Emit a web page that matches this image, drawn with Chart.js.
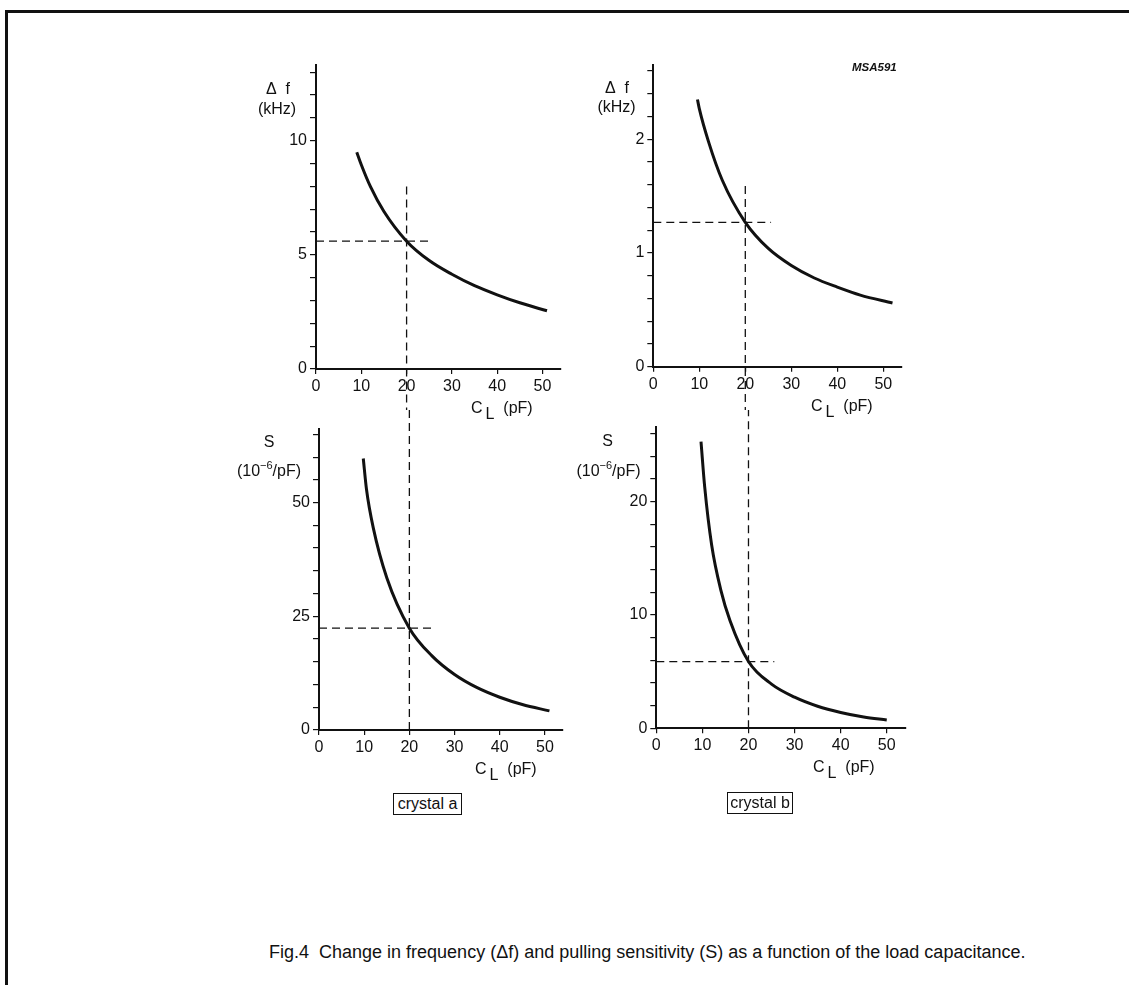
<!DOCTYPE html>
<html>
<head>
<meta charset="utf-8">
<script src="https://cdn.jsdelivr.net/npm/chart.js@4.4.1/dist/chart.umd.min.js"></script>
<style>
body { margin:0; background:#fff; width:1129px; height:985px; position:relative; overflow:hidden;
       font-family:"Liberation Sans", Arial, sans-serif; color:#111; }
.frame { position:absolute; left:5px; top:10px; width:1140px; height:1000px;
         border-left:3px solid #111; border-top:3px solid #111; }
canvas { position:absolute; }
.t { position:absolute; white-space:nowrap; line-height:1; }
.box { position:absolute; border:1.5px solid #111; font-size:16px; text-align:center; box-sizing:border-box; }
</style>
</head>
<body>
<div class="frame"></div>
<canvas id="dfA"></canvas>
<canvas id="dfB"></canvas>
<canvas id="sA"></canvas>
<canvas id="sB"></canvas>

<script>
// load capacitance C_L (pF) and read-off curve values
const clDfA = [9, 10, 12, 15, 20, 25, 30, 35, 40, 45, 51];
const dfA   = [9.5, 8.95, 8.0, 6.9, 5.6, 4.75, 4.15, 3.65, 3.25, 2.9, 2.55];
const clDfB = [9.6, 10, 12, 15, 20, 25, 30, 35, 40, 45, 52];
const dfB   = [2.35, 2.27, 1.98, 1.64, 1.27, 1.04, 0.89, 0.78, 0.7, 0.63, 0.56];
const clSA  = [9.8, 10.5, 12, 15, 20, 25, 30, 35, 40, 45, 51];
const sA    = [59.7, 53, 44.5, 33.5, 22.4, 16.3, 12.2, 9.3, 7.2, 5.6, 4.2];
const clSB  = [9.7, 10.5, 12, 14, 16, 20, 25, 30, 35, 40, 45, 50];
const sB    = [25.3, 21.3, 16.2, 12.2, 9.5, 5.9, 3.9, 2.75, 1.95, 1.4, 1.0, 0.74];

// dashed read-off lines at C_L = 20 pF
const markCL  = 20;
const markEnd = 25.6;
const markDf  = [5.6, 1.27];   // crystal a, b
const markS   = [22.4, 5.88];
const dashTop = [8, 1.59];     // where the vertical dash starts in the Δf panels

// axes
const xLabels   = [0, 10, 20, 30, 40, 50];
const dfALabels = [0, 5, 10];
const dfBLabels = [0, 1, 2];
const sALabels  = [0, 25, 50];
const sBLabels  = [0, 10, 20];

const ink = '#111';
const tickFont = { family: '"Liberation Sans", Arial, sans-serif', size: 16 };

function pts(xs, ys){
    return xs.map((x, i) => ({x: x, y: ys[i]}));
}

function labelOf(list){
    return v => {
        const hit = list.find(l => Math.abs(l - v) < 1e-6);
        return hit === undefined ? '' : String(hit);
    };
}

function makePanel(id, box, area, curve, yMax, yStep, yLabels, markY, vFrom, vTo){
    const cv = document.getElementById(id);
    cv.width = box.w; cv.height = box.h;
    cv.style.left = box.x + 'px'; cv.style.top = box.y + 'px';
    const yWidth = area.left - box.x;
    const xHeight = box.y + box.h - area.bottom;
    const dashed = { borderColor: ink, borderWidth: 1.3, borderDash: [8, 5], pointRadius: 0, fill: false };
    new Chart(cv, {
        type: 'line',
        data: {
            datasets: [
                { data: curve, borderColor: ink, borderWidth: 3, pointRadius: 0,
                  cubicInterpolationMode: 'monotone', fill: false },
                Object.assign({ data: [{x: 0, y: markY}, {x: markEnd, y: markY}] }, dashed),
                Object.assign({ data: [{x: markCL, y: vFrom}, {x: markCL, y: vTo}], clip: false }, dashed)
            ]
        },
        options: {
            responsive: false,
            animation: false,
            devicePixelRatio: 1,
            layout: { padding: { top: area.top - box.y, right: box.x + box.w - area.right, left: 0, bottom: 0 } },
            plugins: { legend: { display: false }, tooltip: { enabled: false } },
            scales: {
                x: {
                    type: 'linear', min: 0, max: 54,
                    afterFit: s => { s.height = xHeight; },
                    ticks: { stepSize: 10, includeBounds: false, padding: 3, color: ink, font: tickFont,
                             maxRotation: 0, callback: labelOf(xLabels) },
                    grid: { drawOnChartArea: false, tickLength: 5, color: ink, lineWidth: 1.2 },
                    border: { color: ink, width: 2 }
                },
                y: {
                    type: 'linear', min: 0, max: yMax,
                    afterFit: s => { s.width = yWidth; },
                    ticks: { stepSize: yStep, includeBounds: false, padding: 3, color: ink, font: tickFont,
                             autoSkip: false, callback: labelOf(yLabels) },
                    grid: { drawOnChartArea: false, tickLength: 6, color: ink, lineWidth: 1.2 },
                    border: { color: ink, width: 2 }
                }
            }
        }
    });
}

makePanel('dfA', {x: 226, y: 45, w: 345, h: 365}, {left: 316, right: 560.6, top: 65.4, bottom: 369},
          pts(clDfA, dfA), 13.3, 1, dfALabels, markDf[0], dashTop[0], -4);
makePanel('dfB', {x: 563, y: 45, w: 350, h: 365}, {left: 653.3, right: 901.7, top: 65.4, bottom: 366.7},
          pts(clDfB, dfB), 2.65, 0.2, dfBLabels, markDf[1], dashTop[1], -1);
makePanel('sA', {x: 226, y: 410, w: 345, h: 380}, {left: 319, right: 563, top: 428.5, bottom: 730},
          pts(clSA, sA), 66.3, 5, sALabels, markS[0], 0, 90);
makePanel('sB', {x: 563, y: 410, w: 350, h: 380}, {left: 656.3, right: 905.2, top: 426.9, bottom: 728.3},
          pts(clSB, sB), 26.6, 2, sBLabels, markS[1], 0, 40);

// text placed by baseline
function text(html, x, base, size, align, extra){
    const d = document.createElement('div');
    d.className = 't';
    d.innerHTML = html;
    d.style.fontSize = size + 'px';
    d.style.top = (base - 0.85 * size) + 'px';
    d.style.left = x + 'px';
    if (align === 'center') d.style.transform = 'translateX(-50%)';
    if (extra) Object.assign(d.style, extra);
    document.body.appendChild(d);
}

const sup = '<span style="font-size:11px;position:relative;top:-7px">\u22126</span>';
const cl = 'C<span style="position:relative;top:6px;margin-left:3px">L</span>&nbsp; (pF)';

text('\u0394&nbsp; f', 278, 95, 16, 'center');
text('(kHz)', 277, 115, 16, 'center');
text('\u0394&nbsp; f', 617, 94, 16, 'center');
text('(kHz)', 616.5, 113, 16, 'center');
text('S', 269, 448, 16, 'center');
text('(10' + sup + '/pF)', 269, 477, 16, 'center');
text('S', 607.5, 447, 16, 'center');
text('(10' + sup + '/pF)', 608.5, 477, 16, 'center');
text('MSA591', 852, 72, 11.5, 'left', { fontWeight: 'bold', fontStyle: 'italic' });
text(cl, 471, 414, 16, 'left');
text(cl, 811, 412, 16, 'left');
text(cl, 475, 775, 16, 'left');
text(cl, 813, 773, 16, 'left');
text('Fig.4&nbsp; Change in frequency (\u0394f) and pulling sensitivity (S) as a function of the load capacitance.',
     269, 958, 18, 'left');

function box(label, x, y, w, h){
    const d = document.createElement('div');
    d.className = 'box';
    d.textContent = label;
    Object.assign(d.style, { left: x + 'px', top: y + 'px', width: w + 'px', height: h + 'px', lineHeight: (h - 3) + 'px' });
    document.body.appendChild(d);
}
box('crystal a', 393, 793, 69, 22);
box('crystal b', 727, 792, 66, 22);
</script>
</body>
</html>
